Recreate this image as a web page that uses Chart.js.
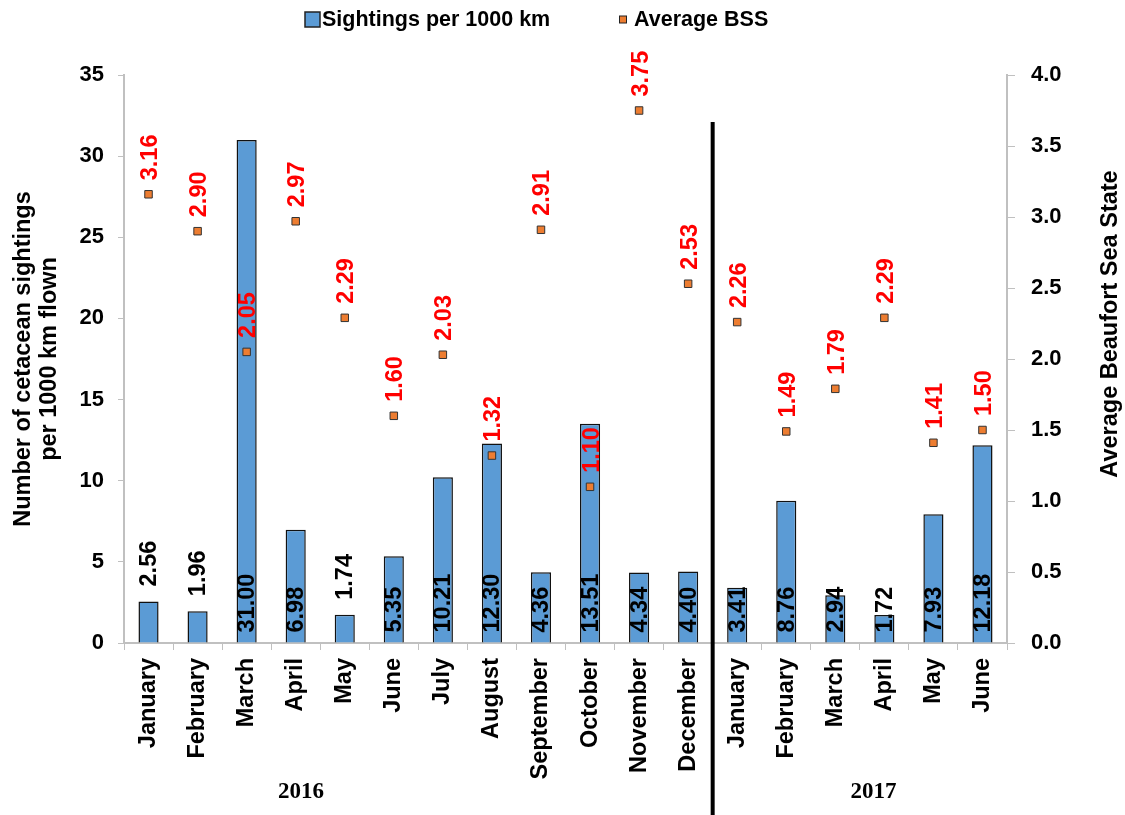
<!DOCTYPE html>
<html>
<head>
<meta charset="utf-8">
<script src="https://cdn.jsdelivr.net/npm/chart.js@4.4.1/dist/chart.umd.min.js"></script>
<style>
  html, body { margin: 0; padding: 0; background: #fff; }
  #wrap { width: 1125px; height: 815px; }
</style>
</head>
<body>
<div id="wrap"><canvas id="chart" width="1125" height="815"></canvas></div>
<script>
const months = ['January', 'February', 'March', 'April', 'May', 'June', 'July', 'August',
  'September', 'October', 'November', 'December',
  'January', 'February', 'March', 'April', 'May', 'June']
const sightings = [2.56, 1.96, 31.00, 6.98, 1.74, 5.35, 10.21, 12.30, 4.36, 13.51, 4.34, 4.40,
  3.41, 8.76, 2.94, 1.72, 7.93, 12.18]
const avgBSS = [3.16, 2.90, 2.05, 2.97, 2.29, 1.60, 2.03, 1.32, 2.91, 1.10, 3.75, 2.53,
  2.26, 1.49, 1.79, 2.29, 1.41, 1.50]
const years = ['2016', '2017']
const seriesNames = ['Sightings per 1000 km', 'Average BSS']
// bars whose value label sits above the bar instead of inside it
const labelAbove = [0, 1, 4]

const FONT = "'Liberation Sans', Arial, sans-serif"
const BLUE = '#5B9BD5'
const ORANGE = '#ED7D31'

const extras = {
  id: 'extras',
  afterDatasetsDraw (chart) {
    const ctx = chart.ctx
    ctx.save()
    ctx.font = 'bold 23.5px ' + FONT
    ctx.textBaseline = 'middle'
    ctx.textAlign = 'left'

    // bar values
    chart.getDatasetMeta(0).data.forEach((bar, i) => {
      const y0 = labelAbove.includes(i) ? bar.y - 15 : bar.base - 10
      ctx.save()
      ctx.translate(bar.x + 1, y0)
      ctx.rotate(-Math.PI / 2)
      ctx.fillStyle = '#000'
      ctx.fillText(sightings[i].toFixed(2), 0, 0)
      ctx.restore()
    })

    // BSS values
    chart.getDatasetMeta(1).data.forEach((pt, i) => {
      ctx.save()
      ctx.translate(pt.x + 2, pt.y - 14)
      ctx.rotate(-Math.PI / 2)
      ctx.fillStyle = '#FF0000'
      ctx.fillText(avgBSS[i].toFixed(2), 0, 0)
      ctx.restore()
    })
    ctx.restore()
  },
  afterDraw (chart) {
    const ctx = chart.ctx
    const x = chart.scales.x
    ctx.save()

    // divider between the two years
    const xs = (x.getPixelForValue(11) + x.getPixelForValue(12)) / 2
    ctx.strokeStyle = '#000'
    ctx.lineWidth = 4
    ctx.beginPath()
    ctx.moveTo(xs, 122)
    ctx.lineTo(xs, chart.height)
    ctx.stroke()

    // year captions
    ctx.font = 'bold 23px "Liberation Serif", "Times New Roman", serif'
    ctx.fillStyle = '#000'
    ctx.textAlign = 'center'
    ctx.textBaseline = 'middle'
    ctx.fillText(years[0], x.getPixelForValue(3.11), 792)
    ctx.fillText(years[1], x.getPixelForValue(14.78), 792)

    // legend
    ctx.textAlign = 'left'
    ctx.font = 'bold 21.5px ' + FONT
    ctx.lineWidth = 1.5
    ctx.strokeStyle = '#222'
    ctx.fillStyle = BLUE
    ctx.fillRect(305, 12, 15, 15)
    ctx.strokeRect(305, 12, 15, 15)
    ctx.fillStyle = '#000'
    ctx.fillText(seriesNames[0], 322, 20)
    ctx.fillStyle = ORANGE
    ctx.lineWidth = 1
    ctx.fillRect(619.5, 16, 7, 7)
    ctx.strokeRect(619.5, 16, 7, 7)
    ctx.fillStyle = '#000'
    ctx.fillText(seriesNames[1], 634, 20)

    // right axis title, reading upwards
    ctx.textAlign = 'center'
    ctx.font = 'bold 23.5px ' + FONT
    ctx.translate(1111, 324)
    ctx.rotate(-Math.PI / 2)
    ctx.fillText('Average Beaufort Sea State', 0, 0)
    ctx.restore()
  }
}

const tickFont = { family: FONT, size: 22, weight: 'bold' }

new Chart(document.querySelector('#chart'), {
  data: {
    labels: months,
    datasets: [{
      type: 'bar',
      label: seriesNames[0],
      data: sightings,
      yAxisID: 'y',
      backgroundColor: BLUE,
      borderColor: '#111',
      borderWidth: 1.5,
      categoryPercentage: 1,
      barPercentage: 0.41,
      order: 2
    }, {
      type: 'line',
      label: seriesNames[1],
      data: avgBSS,
      yAxisID: 'y1',
      showLine: false,
      pointStyle: 'rect',
      pointRadius: 5.3,
      pointBackgroundColor: ORANGE,
      pointBorderColor: '#333',
      pointBorderWidth: 1,
      order: 1
    }]
  },
  options: {
    responsive: false,
    animation: false,
    layout: { padding: { top: 75, right: 0, bottom: 0, left: 0 } },
    plugins: {
      legend: { display: false },
      tooltip: { enabled: false }
    },
    scales: {
      x: {
        offset: true,
        grid: { display: true, drawOnChartArea: false, drawTicks: true, tickLength: 7, color: '#c0c0c0', offset: true },
        border: { color: '#c0c0c0', width: 2 },
        ticks: { color: '#000', font: { family: FONT, size: 23.5, weight: 'bold' }, minRotation: 90, maxRotation: 90, autoSkip: false, padding: 8 },
        afterFit (s) { s.height = 172 }
      },
      y: {
        position: 'left',
        min: 0,
        max: 35,
        ticks: { stepSize: 5, color: '#000', font: tickFont, padding: 14 },
        grid: { drawOnChartArea: false, tickLength: 6, color: '#c0c0c0' },
        border: { color: '#c0c0c0', width: 2 },
        title: {
          display: true,
          text: ['Number of cetacean sightings', 'per 1000 km flown'],
          color: '#000',
          font: { family: FONT, size: 23.5, weight: 'bold', lineHeight: 1.1 },
          padding: { top: 11, bottom: 0 }
        },
        afterFit (s) { s.width = 124 }
      },
      y1: {
        position: 'right',
        min: 0,
        max: 4,
        ticks: { stepSize: 0.5, color: '#000', font: tickFont, padding: 16, callback: (v) => Number(v).toFixed(1) },
        grid: { drawOnChartArea: false, tickLength: 8, color: '#c0c0c0' },
        border: { color: '#c0c0c0', width: 2 },
        afterFit (s) { s.width = 118 }
      }
    }
  },
  plugins: [extras]
})
</script>
</body>
</html>
